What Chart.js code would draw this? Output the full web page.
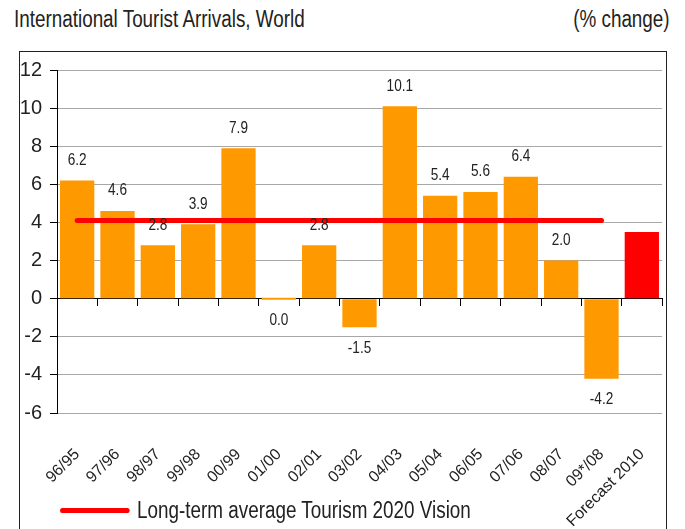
<!DOCTYPE html>
<html>
<head>
<meta charset="utf-8">
<script src="https://cdn.jsdelivr.net/npm/chart.js@4.4.1/dist/chart.umd.min.js"></script>
<style>
  body { margin: 0; background: #fff; }
  #page { position: relative; width: 685px; height: 529px; overflow: hidden;
          font-family: 'Liberation Sans', Arial, sans-serif; color: #222; }
  #frame { position: absolute; left: 19px; top: 51px; width: 646px; height: 500px; border: 1.5px solid #222; }
  #wrap { position: absolute; left: 0; top: 0; width: 685px; height: 529px; }
  /* no narrow face installed: squeeze Liberation Sans horizontally */
  .narrow { position: absolute; font-size: 23px; white-space: nowrap; transform: scaleX(0.82); }
  #legend { left: 60px; top: 497px; transform-origin: left center; display: flex; align-items: center; }
  #legend span.line { display: inline-block; width: 85px; height: 5px; border-radius: 3px; background: #ff0000; margin-right: 9px; }
</style>
</head>
<body>
<div id="page">
  <div id="frame"></div>
  <div class="narrow" style="left:14px; top:6px; transform-origin:left top">International Tourist Arrivals, World</div>
  <div class="narrow" style="right:15px; top:6px; transform-origin:right top">(% change)</div>
  <div id="wrap"><canvas id="chart"></canvas></div>
  <div id="legend" class="narrow"><span class="line"></span>Long-term average Tourism 2020 Vision</div>
</div>
<script>
// ===== Data =====
const categories = ["96/95", "97/96", "98/97", "99/98", "00/99", "01/00", "02/01", "03/02",
  "04/03", "05/04", "06/05", "07/06", "08/07", "09*/08", "Forecast 2010"];
const growth = [6.2, 4.6, 2.8, 3.9, 7.9, 0.0, 2.8, -1.5, 10.1, 5.4, 5.6, 6.4, 2.0, -4.2, 3.5];
const longTermAverage = [4.1, 4.1, 4.1, 4.1, 4.1, 4.1, 4.1, 4.1, 4.1, 4.1, 4.1, 4.1, 4.1, 4.1, null];
const yTicks = [-6, -4, -2, 0, 2, 4, 6, 8, 10, 12];
const forecastIndex = 14;

const FONT = "'Liberation Sans', Arial, sans-serif";
const barColors = growth.map((v, i) => i === forecastIndex ? "#ff0000" : "#ff9900");

// value labels above / below each bar (not on the forecast)
const valueLabels = {
  id: "valueLabels",
  afterDatasetsDraw(chart) {
    const meta = chart.getDatasetMeta(1);
    const ctx = chart.ctx;
    ctx.save();
    ctx.font = "16px " + FONT;
    ctx.fillStyle = "#222";
    ctx.textAlign = "center";
    ctx.textBaseline = "middle";
    meta.data.forEach((bar, i) => {
      if (i === forecastIndex) return;
      const v = growth[i];
      const y = v > 0 ? bar.y - 20 : Math.max(bar.y, bar.base) + 21;
      ctx.save();
      ctx.translate(bar.x, y);
      ctx.scale(0.85, 1);
      ctx.fillText(v.toFixed(1), 0, 0);
      ctx.restore();
    });
    ctx.restore();
  }
};

new Chart(document.getElementById("chart"), {
  data: {
    labels: categories,
    datasets: [
      {
        type: "line",
        label: "Long-term average Tourism 2020 Vision",
        data: longTermAverage,
        borderColor: "#ff0000",
        borderWidth: 5,
        borderCapStyle: "round",
        pointRadius: 0,
        order: 0,
      },
      {
        type: "bar",
        label: "Growth",
        data: growth,
        backgroundColor: barColors,
        barPercentage: 0.85,
        categoryPercentage: 1,
        minBarLength: 2,
        order: 1,
      },
    ],
  },
  options: {
    responsive: true,
    maintainAspectRatio: false,
    animation: false,
    layout: { padding: { top: 70, right: 23, left: 0, bottom: 0 } },
    plugins: { legend: { display: false }, tooltip: { enabled: false } },
    scales: {
      x: {
        position: "bottom",
        grid: { display: false },
        border: { display: false },
        ticks: { autoSkip: false, minRotation: 45, maxRotation: 45, padding: 24,
                 color: "#222", font: { family: FONT, size: 16 } },
        afterFit(s) { s.height = 116; s.paddingLeft = 0; s.paddingRight = 0; },
      },
      xZero: {
        type: "category",
        labels: categories,
        position: { y: 0 },
        offset: true,
        grid: { offset: true, drawOnChartArea: false, tickLength: 7, color: "#000" },
        border: { color: "#000", width: 1 },
        ticks: { display: false },
      },
      y: {
        min: -6,
        max: 12,
        afterBuildTicks(s) { s.ticks = yTicks.map(v => ({ value: v })); },
        ticks: { padding: 8, color: "#222", font: { family: FONT, size: 20 } },
        grid: { color: c => c.tick && c.tick.value === 0 ? "#000" : "#a8a8a8", tickColor: "#000", tickLength: 7 },
        border: { color: "#000", width: 1 },
        afterFit(s) { s.width = 57; },
      },
    },
  },
  plugins: [valueLabels],
});
</script>
</body>
</html>
